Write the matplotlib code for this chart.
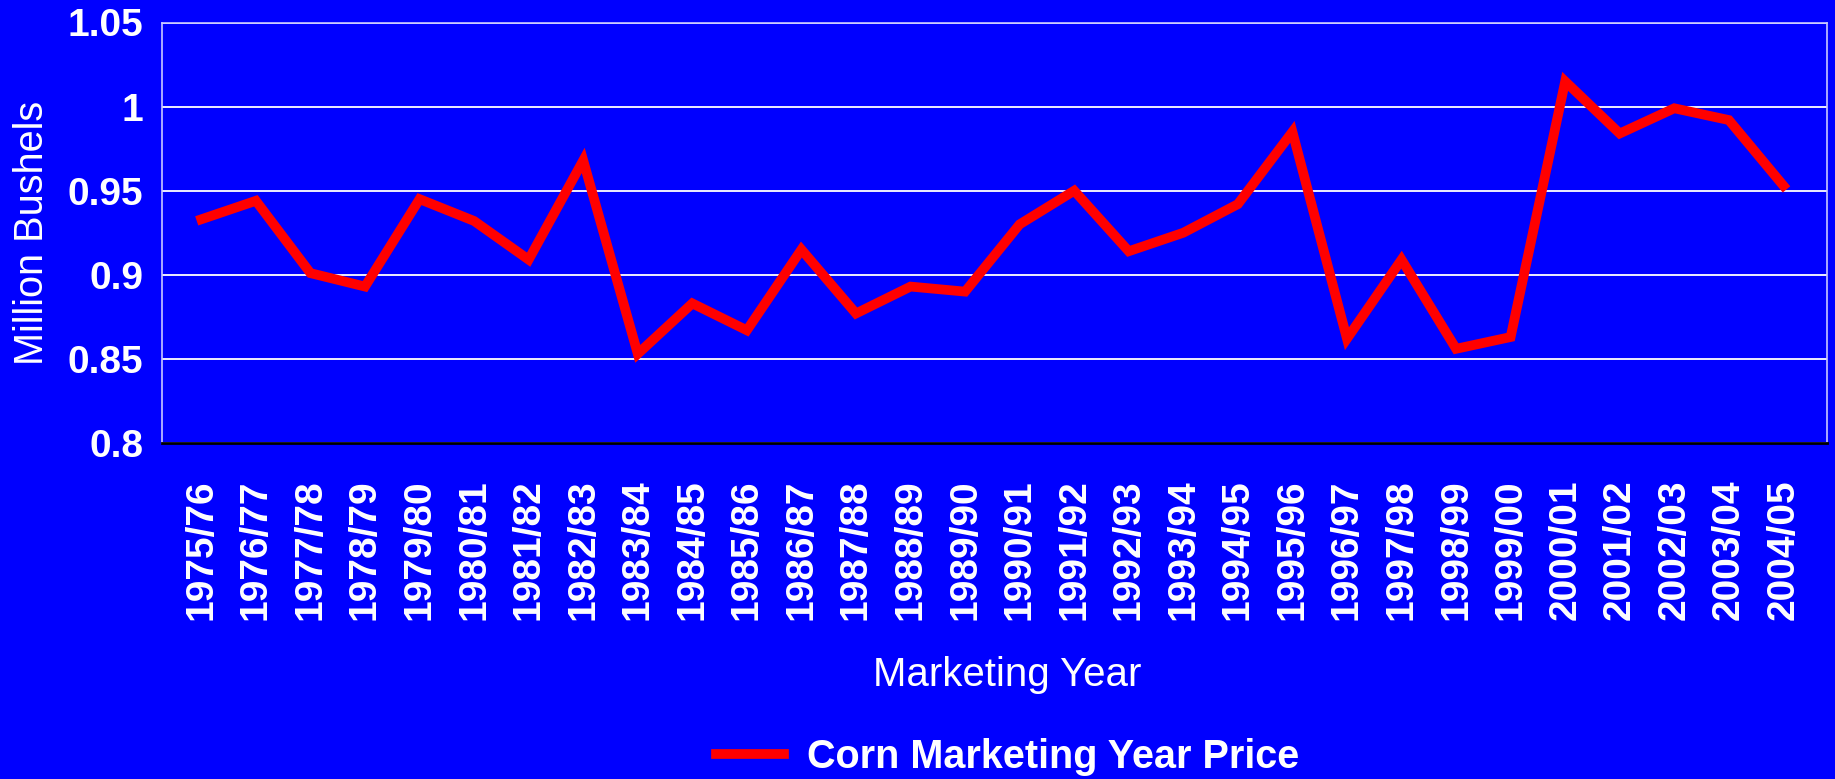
import matplotlib
matplotlib.use('Agg')
import matplotlib.pyplot as plt
from matplotlib.ticker import FuncFormatter

plt.rcParams['font.family'] = ['Liberation Sans', 'DejaVu Sans']

years = ['1975/76', '1976/77', '1977/78', '1978/79', '1979/80', '1980/81',
         '1981/82', '1982/83', '1983/84', '1984/85', '1985/86', '1986/87',
         '1987/88', '1988/89', '1989/90', '1990/91', '1991/92', '1992/93',
         '1993/94', '1994/95', '1995/96', '1996/97', '1997/98', '1998/99',
         '1999/00', '2000/01', '2001/02', '2002/03', '2003/04', '2004/05']
price = [0.933, 0.944, 0.901, 0.893, 0.945, 0.932, 0.909, 0.968, 0.853, 0.883,
         0.867, 0.915, 0.877, 0.893, 0.890, 0.930, 0.950, 0.914, 0.925, 0.942,
         0.985, 0.862, 0.909, 0.856, 0.863, 1.015, 0.984, 0.999, 0.992, 0.953]
y_ticks = [0.8, 0.85, 0.9, 0.95, 1.0, 1.05]

blue = '#0000FF'
fig = plt.figure(figsize=(18.35, 7.79), dpi=100, facecolor=blue)
ax = fig.add_axes([161.5 / 1835, 1 - 443 / 779, (1826.5 - 161.5) / 1835, (443 - 22.5) / 779])
ax.set_facecolor(blue)

x = list(range(len(years)))
ax.plot(x, price, color='#FF0000', lw=7, solid_joinstyle='miter',
        label='Corn Marketing Year Price', zorder=3)

ax.set_ylim(0.8, 1.05)
ax.set_xlim(-0.73, len(years) - 1 + 0.79)
ax.set_yticks(y_ticks)
ax.yaxis.set_major_formatter(FuncFormatter(lambda v, p: '%g' % v))
ax.set_xticks(x)
ax.set_xticklabels(years, rotation=90, va='top', ha='center')
ax.grid(axis='y', color='white', lw=1.3)
ax.set_axisbelow(True)

ax.tick_params(axis='y', length=0, pad=13, labelsize=28, labelcolor='white')
ax.tick_params(axis='x', length=0, pad=26, labelsize=28, labelcolor='white')
for lab in ax.get_xticklabels() + ax.get_yticklabels():
    lab.set_fontweight('bold')

for side in ['left', 'right', 'top']:
    ax.spines[side].set_color('#C8C8FF')
    ax.spines[side].set_linewidth(1.2)
ax.spines['bottom'].set_color('black')
ax.spines['bottom'].set_linewidth(2)

ax.set_ylabel('Million Bushels', color='white', fontsize=28.5, labelpad=12)
ax.set_xlabel('Marketing Year', color='white', fontsize=29, labelpad=26)
ax.xaxis.label.set_x(0.508)

leg = fig.legend(loc='center', bbox_to_anchor=(1008 / 1835, 1 - 757 / 779),
                 frameon=False, handlelength=1.7, handletextpad=0.6,
                 prop={'weight': 'bold', 'size': 28.5})
for t in leg.get_texts():
    t.set_color('white')

fig.savefig('out.png', dpi=100, facecolor=blue)
